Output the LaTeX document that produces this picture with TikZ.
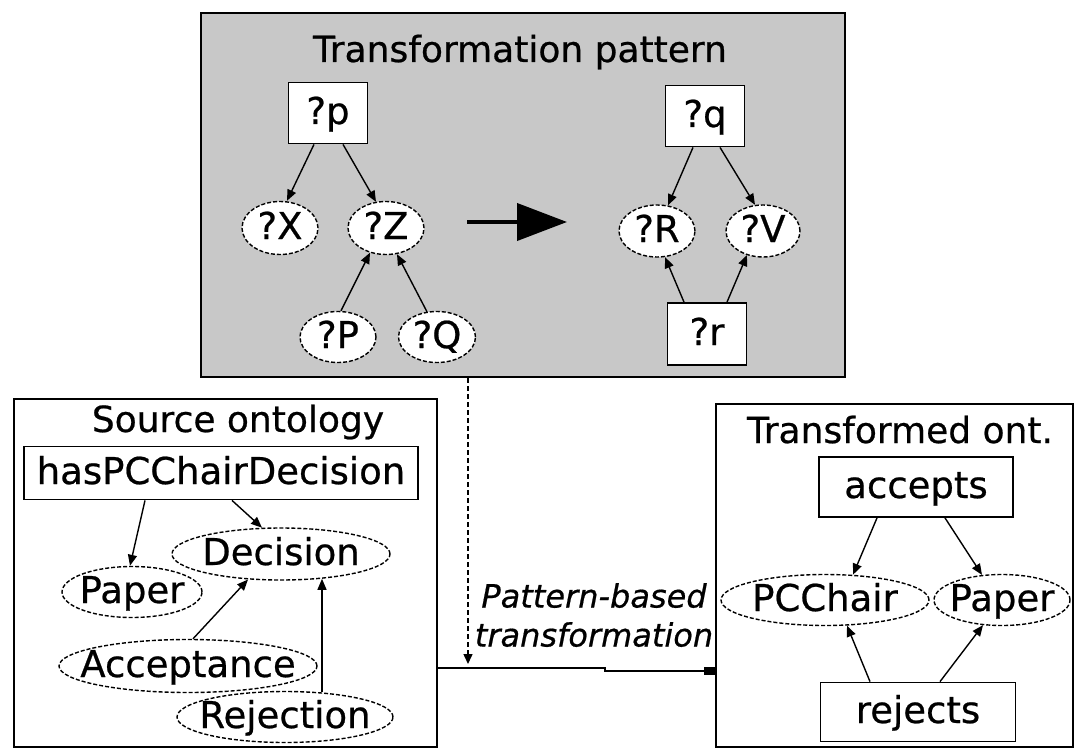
\documentclass[tikz,border=0pt]{standalone}
\usepackage{fontspec}
\setmainfont{DejaVu Sans}[FakeBold=0.6]
\usetikzlibrary{shapes.geometric,arrows.meta}
\definecolor{patgray}{RGB}{200,200,200}
\tikzset{
  bx/.style={draw, rectangle, line width=1.8pt, fill=white, inner sep=0pt,
    text height=28pt, text depth=6pt, font=\fontsize{37}{40}\selectfont},
  ell/.style={draw, ellipse, line width=1.4pt, dash pattern=on 4pt off 2pt, fill=white, inner sep=0pt,
    text height=28pt, text depth=6pt, font=\fontsize{37}{40}\selectfont},
  frame/.style={draw, rectangle, line width=1.8pt, inner sep=0pt},
  ttl/.style={anchor=base, inner sep=0pt, font=\fontsize{36}{40}\selectfont},
  edge/.style={line width=1.4pt, -{Triangle[length=11pt,width=9pt]}},
}
\newcommand\zb[1]{\makebox[0pt]{#1}}
\begin{document}
\begin{tikzpicture}[x=1pt,y=-1pt]
\useasboundingbox (0,0) rectangle (1075,749);
% frames
\node[frame, fill=patgray, line width=2.2pt, minimum width=644pt, minimum height=364pt] (pat) at (523,195) {};
\node[frame, minimum width=423pt, minimum height=348pt] (src) at (225.5,573) {};
\node[frame, minimum width=357pt, minimum height=343pt] (trg) at (894.5,575.5) {};
% titles
\node[ttl] (tpat) at (520,62) {Transformation pattern};
\node[ttl] (tsrc) at (238,432) {Source ontology};
\node[ttl] (ttrg) at (900,443) {Transformed ont.};
% pattern left
\node[bx, minimum width=79pt, minimum height=61pt] (p) at (328,113) {?p};
\node[ell, minimum width=76pt, minimum height=53pt] (X) at (280,228) {\zb{?X}};
\node[ell, minimum width=76pt, minimum height=53pt] (Z) at (386,228) {\zb{?Z}};
\node[ell, minimum width=76pt, minimum height=51pt] (P) at (338,337) {\zb{?P}};
\node[ell, minimum width=77pt, minimum height=51pt] (Q) at (437,337) {\zb{?Q}};
% pattern right
\node[bx, minimum width=79pt, minimum height=61pt] (q) at (705,116) {?q};
\node[ell, minimum width=76pt, minimum height=52pt] (R) at (657,231) {\zb{?R}};
\node[ell, minimum width=74pt, minimum height=52pt] (V) at (763,231) {\zb{?V}};
\node[bx, minimum width=79pt, minimum height=62pt] (r) at (707,334) {?r};
% big arrow
\coordinate (ba) at (467,222);
\coordinate (bb) at (567,222);
\draw[line width=4pt, -{Triangle[length=50pt,width=37pt]}] (ba) -- (bb);
% pattern edges
\draw[edge] ([xshift=-14pt]p.south) -- ([xshift=7pt]X.north);
\draw[edge] ([xshift=15pt]p.south) -- ([xshift=-10pt,yshift=-1pt]Z.north);
\draw[edge] ([xshift=3pt]P.north) -- ([xshift=-16pt,yshift=2.5pt]Z.south);
\draw[edge] ([xshift=-10pt,yshift=-1pt]Q.north) -- ([xshift=11pt,yshift=1pt]Z.south);
\draw[edge] ([xshift=-12pt]q.south) -- ([xshift=11pt,yshift=-1pt]R.north);
\draw[edge] ([xshift=15pt]q.south) -- ([xshift=-8pt,yshift=-0.5pt]V.north);
\draw[edge] ([xshift=-23pt]r.north) -- ([xshift=8pt,yshift=0.6pt]R.south);
\draw[edge] ([xshift=20pt]r.north) -- ([xshift=-16pt,yshift=2.7pt]V.south);
% source ontology
\node[bx, minimum width=394pt, minimum height=53pt] (has) at (221,473) {hasPCChairDecision};
\node[ell, minimum width=218pt, minimum height=52pt] (dec) at (281,554) {\zb{Decision}};
\node[ell, minimum width=140pt, minimum height=51pt] (pap) at (132,592) {\zb{Paper}};
\node[ell, minimum width=258pt, minimum height=53pt] (acc) at (188,666) {\zb{Acceptance}};
\node[ell, minimum width=216pt, minimum height=51pt] (rej) at (285,717) {\zb{Rejection}};
\draw[edge] ([xshift=-76pt]has.south) -- ([xshift=-2pt]pap.north);
\draw[edge] ([xshift=11pt]has.south) -- ([xshift=-19pt,yshift=-0.4pt]dec.north);
\draw[edge] ([xshift=5pt]acc.north) -- ([xshift=-33pt,yshift=1.2pt]dec.south);
\draw[edge] ([xshift=37pt,yshift=-1.5pt]rej.north) -- ([xshift=41pt,yshift=1.9pt]dec.south);
% transformed ontology
\node[bx, minimum width=194pt, minimum height=60pt] (acs) at (916,487) {accepts};
\node[ell, minimum width=208pt, minimum height=51pt] (pcc) at (825,600) {\zb{PCChair}};
\node[ell, minimum width=136pt, minimum height=51pt] (pap2) at (1002,600) {\zb{Paper}};
\node[bx, minimum width=195pt, minimum height=59pt] (rjs) at (918,712) {rejects};
\draw[edge] ([xshift=-39pt]acs.south) -- ([xshift=28pt,yshift=-0.9pt]pcc.north);
\draw[edge] ([xshift=29pt]acs.south) -- ([xshift=-20pt,yshift=-1.1pt]pap2.north);
\draw[edge] ([xshift=-48pt]rjs.north) -- ([xshift=22pt,yshift=0.6pt]pcc.south);
\draw[edge] ([xshift=22pt]rjs.north) -- ([xshift=-19pt,yshift=1.1pt]pap2.south);
% transformation connectors
\coordinate (dend) at (468,664);
\draw[line width=1.5pt, dash pattern=on 5pt off 3pt, -{Triangle[length=10pt,width=9pt]}] (pat.south -| dend) -- (dend);
\coordinate (j1) at (605,668);
\coordinate (j2) at (605,671);
\draw[line width=1.5pt, -{Rectangle[length=11pt,width=8pt]}] (src.east |- j1) -- (j1) -- (j2) -- (trg.west |- j2);
\node[anchor=north, align=center, inner sep=0pt, font=\fontsize{32}{39}\selectfont\itshape] (lbl) at (594,583) {Pattern-based\\transformation};
\end{tikzpicture}
\end{document}
